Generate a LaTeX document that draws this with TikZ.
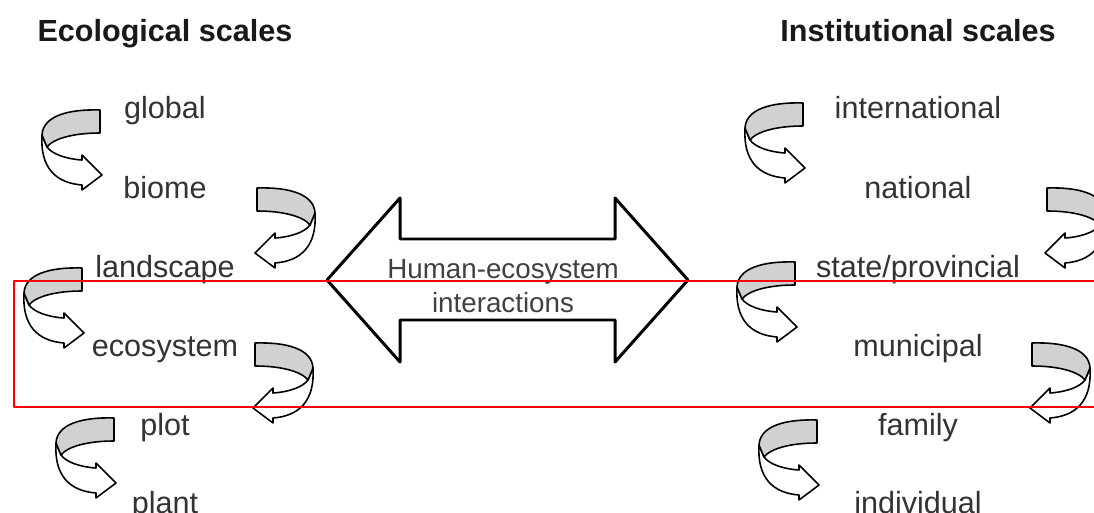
\documentclass[tikz,border=0pt]{standalone}
\usepackage{fontspec}
\setmainfont{Liberation Sans}

% Flecha curva (x, y, sentido)
\newcommand{\giro}[3]{%
  \begin{scope}[shift={(#1,#2)}, xscale=#3]
    % banda blanca con punta
    \filldraw[fill=white] (2,27) -- (7,39) .. controls (12,46) and (26,51) .. (42,52) -- (42,47) -- (62,67) -- (42,82) -- (42,77) .. controls (16,75) and (0,60) .. (2,27);
    % banda gris
    \filldraw[fill=black!18] (60,2) -- (60,25) .. controls (35,25) and (14,30) .. (7,39) -- (2,27) .. controls (3,8) and (28,1) .. cycle;
  \end{scope}}

\tikzset{
  escala/.style={font=\fontsize{17.4}{20}\selectfont, text=black!80, anchor=base, inner sep=0pt},
  titulo/.style={font=\fontsize{17.4}{20}\selectfont\bfseries, text=black!90, anchor=base, inner sep=0pt},
}

\begin{document}
\begin{tikzpicture}[x=0.02cm, y=-0.02cm, line width=0.9pt, line join=round]
\useasboundingbox (0,0) rectangle (1094,513);
\clip (0,0) rectangle (1094,513);
% Titulos
\node[titulo] (eco) at (165,42) {Ecological scales};
\node[titulo] (ins) at (918,42) {Institutional scales};
% Escalas ecologicas
\node[escala] (global) at (165,119) {global};
\node[escala] (biome) at (165,198) {biome};
\node[escala] (landscape) at (165,277) {landscape};
\node[escala] (ecosystem) at (165,356) {ecosystem};
\node[escala] (plot) at (165,435) {plot};
\node[escala] (plant) at (165,513) {plant};
% Escalas institucionales
\node[escala] (international) at (918,119) {international};
\node[escala] (national) at (918,198) {national};
\node[escala] (state) at (918,277) {state/provincial};
\node[escala] (municipal) at (918,356) {municipal};
\node[escala] (family) at (918,435) {family};
\node[escala] (individual) at (918,513) {individual};
% Flechas curvas, izquierda
\giro{40}{108}{1}
\giro{317}{186}{-1}
\giro{22}{266}{1}
\giro{315}{341}{-1}
\giro{54}{416}{1}
% Flechas curvas, derecha
\giro{743}{101}{1}
\giro{1107}{186}{-1}
\giro{735}{260}{1}
\giro{1092}{341}{-1}
\giro{757}{418}{1}
% Flecha doble
\draw[line width=1.7pt, fill=white] (327,280) -- (400,198) -- (400,239) -- (615,239) -- (615,198) -- (688,280) -- (615,362) -- (615,320) -- (400,320) -- (400,362) -- cycle;
\node[font=\fontsize{15.8}{19.5}\selectfont, text=black!75, align=center] (hei) at (503,286) {Human-ecosystem\\interactions};
% Recuadro rojo
\draw[red, line width=1.7pt] (14,281) rectangle (1100,407);
\end{tikzpicture}
\end{document}
